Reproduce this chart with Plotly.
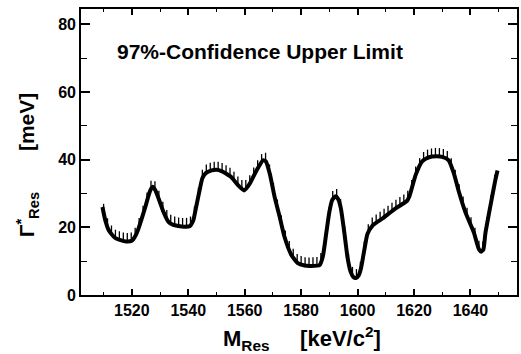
import numpy as np
import plotly.graph_objects as go

# Data
mass = [1509.6, 1510.6, 1511.8, 1513.0, 1514.2, 1516.0, 1518.0, 1520.0, 1521.3, 1522.4,
        1523.6, 1524.8, 1525.8, 1526.6, 1527.4, 1528.3, 1529.5, 1531.2, 1533.0, 1534.5,
        1536.5, 1538.5, 1540.6, 1541.8, 1542.8, 1543.8, 1545.0, 1546.2, 1548.3, 1550.0,
        1551.8, 1553.5, 1555.3, 1557.7, 1559.8, 1561.8, 1564.2, 1566.5, 1567.5, 1568.9,
        1570.6, 1572.4, 1574.1, 1576.5, 1578.8, 1581.2, 1583.0, 1586.5, 1587.7, 1588.9,
        1590.0, 1591.0, 1592.2, 1593.2, 1594.1, 1595.3, 1596.5, 1597.5, 1598.5, 1599.4,
        1600.4, 1601.2, 1602.4, 1603.5, 1605.3, 1608.8, 1613.5, 1617.5, 1618.5, 1620.6,
        1622.9, 1625.3, 1628.0, 1630.0, 1632.3, 1634.1, 1635.9, 1638.2, 1641.2, 1643.0,
        1643.8, 1644.6, 1645.3, 1647.0, 1648.8, 1649.6]
gamma = [26.0, 22.1, 19.2, 17.8, 16.8, 16.2, 15.8, 16.0, 17.5, 19.7,
         22.8, 26.0, 29.0, 31.0, 32.0, 31.0, 28.5, 24.6, 21.6, 20.8,
         20.4, 20.2, 20.4, 22.1, 26.0, 30.0, 34.5, 36.0, 36.8, 37.0,
         36.6, 35.8, 34.8, 32.4, 30.9, 32.9, 36.8, 39.8, 39.5, 35.8,
         29.0, 23.1, 17.2, 11.9, 9.4, 8.7, 8.6, 8.8, 11.4, 18.2,
         24.5, 28.0, 29.2, 28.2, 25.5, 18.5, 10.8, 7.0, 5.3, 5.0,
         5.8, 7.8, 13.3, 18.0, 20.5, 22.6, 25.6, 27.8, 29.5, 35.5,
         39.5, 40.7, 41.0, 40.8, 39.8, 36.0, 30.5, 24.5, 18.5, 13.5,
         12.8, 13.5, 18.2, 26.0, 33.9, 36.8]

x_ticks = [1520, 1540, 1560, 1580, 1600, 1620, 1640]
y_ticks = [0, 20, 40, 60, 80]
label_text = "97%-Confidence Upper Limit"

FONT = "Liberation Sans"

# hatch marks (exclusion side) derived from the curve
hx = np.arange(mass[0] + 0.4, mass[-1], 1.4)
hy = np.interp(hx, mass, gamma)
hatch_x, hatch_y = [], []
for a, b in zip(hx, hy):
    hatch_x += [a, a, None]
    hatch_y += [b, b + 2.5, None]

fig = go.Figure()
fig.add_trace(go.Scatter(x=hatch_x, y=hatch_y, mode="lines",
                         line=dict(color="black", width=1.3),
                         hoverinfo="skip", showlegend=False))
fig.add_trace(go.Scatter(x=mass, y=gamma, mode="lines",
                         line=dict(color="black", width=4, shape="spline", smoothing=0.5),
                         showlegend=False))

axis_common = dict(showgrid=False, zeroline=False, showline=True, linecolor="black",
                   linewidth=1.6, mirror="allticks", ticks="inside", tickcolor="black",
                   tickwidth=1.6)

fig.update_xaxes(range=[1502, 1656.5], tickmode="array", tickvals=x_ticks,
                 ticktext=[str(v) for v in x_ticks], ticklen=6,
                 minor=dict(ticks="inside", dtick=10, tick0=1500, ticklen=3.5,
                            tickcolor="black", tickwidth=1.4),
                 tickfont=dict(family=FONT, size=16, color="black", weight="bold"),
                 **axis_common)
fig.update_yaxes(range=[0, 84.5], tickmode="array", tickvals=y_ticks,
                 ticktext=[str(v) for v in y_ticks], ticklen=9,
                 minor=dict(ticks="inside", dtick=10, tick0=0, ticklen=6,
                            tickcolor="black", tickwidth=1.4),
                 tickfont=dict(family=FONT, size=16, color="black", weight="bold"),
                 **axis_common)

fig.add_annotation(x=0.411, y=0.85, xref="paper", yref="paper", text=label_text,
                   showarrow=False, xanchor="center", yanchor="middle",
                   font=dict(family=FONT, size=21, color="black", weight="bold"))

fig.add_annotation(x=0.508, y=-0.152, xref="paper", yref="paper",
                   text="M<sub>Res</sub>\u00a0\u00a0\u00a0\u00a0\u00a0[keV/c<sup>2</sup>]",
                   showarrow=False, xanchor="center", yanchor="middle",
                   font=dict(family=FONT, size=22, color="black", weight="bold"))

fig.add_annotation(x=-0.123, y=0.455, xref="paper", yref="paper", textangle=-90,
                   text="Γ<sup>*</sup><sub>Res</sub>\u00a0\u00a0\u00a0\u00a0\u00a0\u00a0\u00a0[meV]",
                   showarrow=False, xanchor="center", yanchor="middle",
                   font=dict(family=FONT, size=21, color="black", weight="bold"))

fig.update_layout(width=521, height=354, margin=dict(l=81, r=2, t=9, b=59),
                  paper_bgcolor="white", plot_bgcolor="white", showlegend=False)

fig.write_html("out.html")
